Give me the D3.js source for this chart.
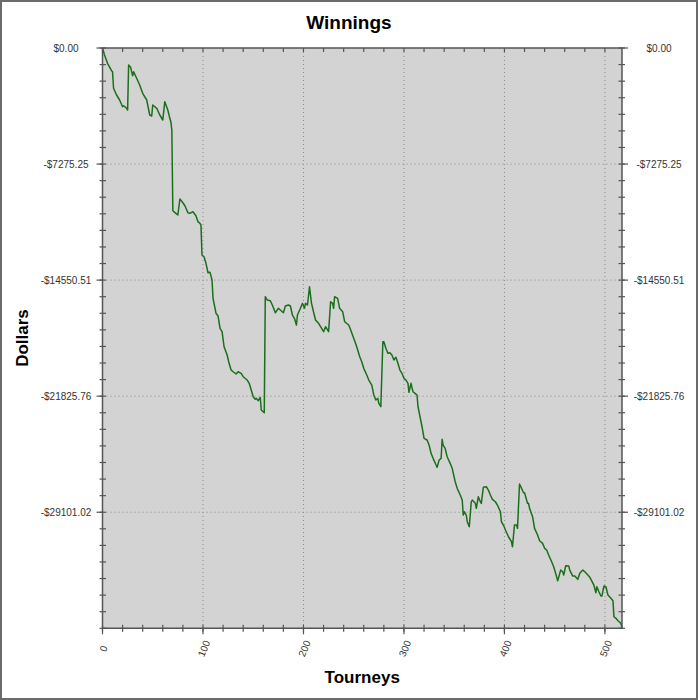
<!DOCTYPE html>
<html><head><meta charset="utf-8">
<script src="https://cdn.jsdelivr.net/npm/d3@7"></script>
<style>body{margin:0;background:#fff;}svg{display:block;font-family:"Liberation Sans",Arial,sans-serif;}</style>
</head><body>
<svg id="c" width="698" height="700"></svg>
<script>
const tourneys = [0,2,5,9,10,11,14,17,20,21,24,25,26,28,30,31,34,37,40,44,47,49,50,54,57,60,62,65,67,68,69,70,73,75,77,80,82,85,87,90,93,95,97,98,99,101,103,105,107,109,110,113,115,117,119,121,124,126,128,130,133,135,138,140,144,146,148,150,152,153,155,157,158,161,162,164,167,169,172,175,177,180,182,185,187,189,191,193,194,197,199,201,202,204,206,208,210,212,215,217,220,222,225,227,229,230,231,234,236,239,241,245,247,250,253,256,258,260,263,265,268,270,272,274,275,277,279,280,282,284,286,288,290,292,294,296,298,300,302,304,305,307,309,311,313,314,316,318,320,323,325,327,329,332,333,335,337,338,339,341,343,346,348,351,353,356,358,359,360,362,363,365,367,368,371,372,374,376,377,379,382,384,386,388,391,393,396,397,399,401,404,407,408,410,412,413,415,416,419,420,423,424,425,428,430,433,435,438,440,442,444,447,449,451,453,454,456,458,459,461,464,465,468,470,473,475,478,480,483,485,487,489,491,492,494,496,497,499,501,503,506,508,509,511,513,516,517];
const winnings = [0,-439,-959,-1423,-1486,-2526,-2946,-3260,-3680,-3617,-3780,-3887,-1066,-1210,-1737,-1486,-1900,-2320,-2840,-3260,-4200,-4263,-3573,-3780,-4200,-4514,-3366,-3887,-4407,-4620,-5141,-10200,-10363,-10469,-9466,-9698,-9886,-10325,-10363,-10262,-10513,-10889,-10990,-11096,-12977,-13083,-13497,-14087,-14062,-14544,-15692,-16632,-16801,-17572,-17785,-18726,-19246,-19767,-20186,-20293,-20437,-20293,-20393,-20606,-20813,-21020,-21440,-21860,-22023,-21961,-22111,-21898,-22694,-22863,-15591,-15798,-15842,-16111,-16594,-16318,-16425,-16594,-16174,-16111,-16174,-16738,-16945,-17365,-16738,-16318,-16005,-16318,-16005,-16111,-14964,-16005,-16531,-17052,-17258,-17472,-17785,-17472,-17785,-15904,-16005,-16318,-15591,-15692,-16318,-16531,-17158,-17365,-17679,-18199,-18726,-19352,-19666,-20080,-20500,-20813,-21127,-21753,-22067,-21961,-22274,-22487,-18412,-18412,-18826,-19139,-19101,-19246,-19559,-19390,-19767,-20186,-20393,-20707,-20813,-21020,-21584,-21020,-21547,-21647,-21753,-22487,-23114,-23741,-24468,-24574,-24888,-25408,-25722,-26142,-26286,-25828,-25722,-24531,-24888,-25095,-25621,-26035,-26349,-27189,-27603,-28023,-28337,-29277,-29070,-29277,-29697,-30011,-28444,-28337,-28544,-28858,-28130,-28444,-28544,-27541,-27503,-27710,-28023,-28293,-28444,-28650,-29070,-29697,-29904,-30217,-30637,-30950,-31264,-29904,-29904,-30111,-27333,-27459,-27879,-27879,-28544,-28544,-28858,-29383,-30111,-30531,-30888,-31051,-31364,-31471,-31784,-32204,-32518,-32932,-33395,-33182,-32725,-32831,-33038,-32455,-32474,-32725,-33101,-33101,-33308,-32932,-32725,-32831,-33038,-33182,-33414,-33665,-34147,-33771,-34085,-34354,-34354,-33727,-33771,-34292,-34499,-34650,-35652,-35753,-35903,-36066,-36376.27];
const yTicks = [0,-7275.25,-14550.51,-21825.76,-29101.02];
const yTickLabels = ["$0.00","-$7275.25","-$14550.51","-$21825.76","-$29101.02"];
const xTicks = [0,100,200,300,400,500];
const xTickLabels = ["0","100","200","300","400","500"];
const yMin = -36376.27, xMax = 517;

const svg = d3.select("#c");
const L=102.5, R=622, T=48, B=628.3;
const x = d3.scaleLinear().domain([0,xMax]).range([L,R]);
const y = d3.scaleLinear().domain([yMin,0]).range([B,T]);

svg.append("rect").attr("x",1).attr("y",1).attr("width",696).attr("height",698)
  .attr("fill","#fff").attr("stroke","#6b6b6b").attr("stroke-width",2);

svg.append("rect").attr("x",L).attr("y",T).attr("width",R-L).attr("height",B-T).attr("fill","#d3d3d3");

const grid = svg.append("g").attr("stroke","#8a8a8a").attr("stroke-width",1).attr("stroke-dasharray","1,3");
xTicks.slice(1).forEach(t=>grid.append("line").attr("x1",x(t)).attr("x2",x(t)).attr("y1",T).attr("y2",B));
yTicks.slice(1).forEach(t=>grid.append("line").attr("y1",y(t)).attr("y2",y(t)).attr("x1",L).attr("x2",R));

const line = d3.line().x((d,i)=>x(tourneys[i])).y(d=>y(d));
svg.append("path").datum(winnings).attr("d",line).attr("fill","none")
  .attr("stroke","#1b6f1b").attr("stroke-width",1.5).attr("stroke-linejoin","round");

const ax = svg.append("g").attr("stroke","#555").attr("stroke-width",1.5);
ax.append("line").attr("x1",L).attr("x2",R).attr("y1",T).attr("y2",T);
ax.append("line").attr("x1",L).attr("x2",R).attr("y1",B).attr("y2",B);
ax.append("line").attr("x1",L).attr("x2",L).attr("y1",T).attr("y2",B);
ax.append("line").attr("x1",R).attr("x2",R).attr("y1",T).attr("y2",B);

const xMinor = d3.range(0, xMax+1, 20);
const yStep = (yTicks[1]-yTicks[0])/7;
const yMinor = d3.range(0,36).map(i=>i*yStep).filter(v=>v>=yMin-1);
const tk = svg.append("g").attr("stroke","#555").attr("stroke-width",1.2);
xMinor.forEach(t=>{
  tk.append("line").attr("x1",x(t)).attr("x2",x(t)).attr("y1",B-3.5).attr("y2",B+3.5);
  tk.append("line").attr("x1",x(t)).attr("x2",x(t)).attr("y1",T).attr("y2",T+4);
});
yMinor.forEach(v=>{
  tk.append("line").attr("y1",y(v)).attr("y2",y(v)).attr("x1",L-3).attr("x2",L+3.5);
  tk.append("line").attr("y1",y(v)).attr("y2",y(v)).attr("x1",R-3.5).attr("x2",R+3);
});
xTicks.forEach(t=>tk.append("line").attr("x1",x(t)).attr("x2",x(t)).attr("y1",B).attr("y2",B+6));
yTicks.forEach(v=>{
  tk.append("line").attr("y1",y(v)).attr("y2",y(v)).attr("x1",L-6).attr("x2",L);
  tk.append("line").attr("y1",y(v)).attr("y2",y(v)).attr("x1",R).attr("x2",R+6);
});

const lab = svg.append("g").attr("font-size",10).attr("fill","#333");
yTicks.forEach((v,i)=>{
  lab.append("text").attr("x",66).attr("y",y(v)).attr("dy","0.35em").attr("text-anchor","middle").text(yTickLabels[i]);
  lab.append("text").attr("x",659).attr("y",y(v)).attr("dy","0.35em").attr("text-anchor","middle").text(yTickLabels[i]);
});
xTicks.forEach((t,i)=>{
  lab.append("text").attr("transform",`translate(${x(t)+1},${648.5}) rotate(-68)`)
    .attr("text-anchor","middle").attr("dy","0.35em").text(xTickLabels[i]);
});

svg.append("text").attr("x",349).attr("y",29).attr("text-anchor","middle")
  .attr("font-size",19).attr("font-weight","bold").attr("fill","#000").text("Winnings");
svg.append("text").attr("x",(L+R)/2).attr("y",683).attr("text-anchor","middle")
  .attr("font-size",17).attr("font-weight","bold").attr("fill","#000").text("Tourneys");
svg.append("text").attr("transform","translate(28,338) rotate(-90)").attr("text-anchor","middle")
  .attr("font-size",17).attr("font-weight","bold").attr("fill","#000").text("Dollars");
</script>
</body></html>
